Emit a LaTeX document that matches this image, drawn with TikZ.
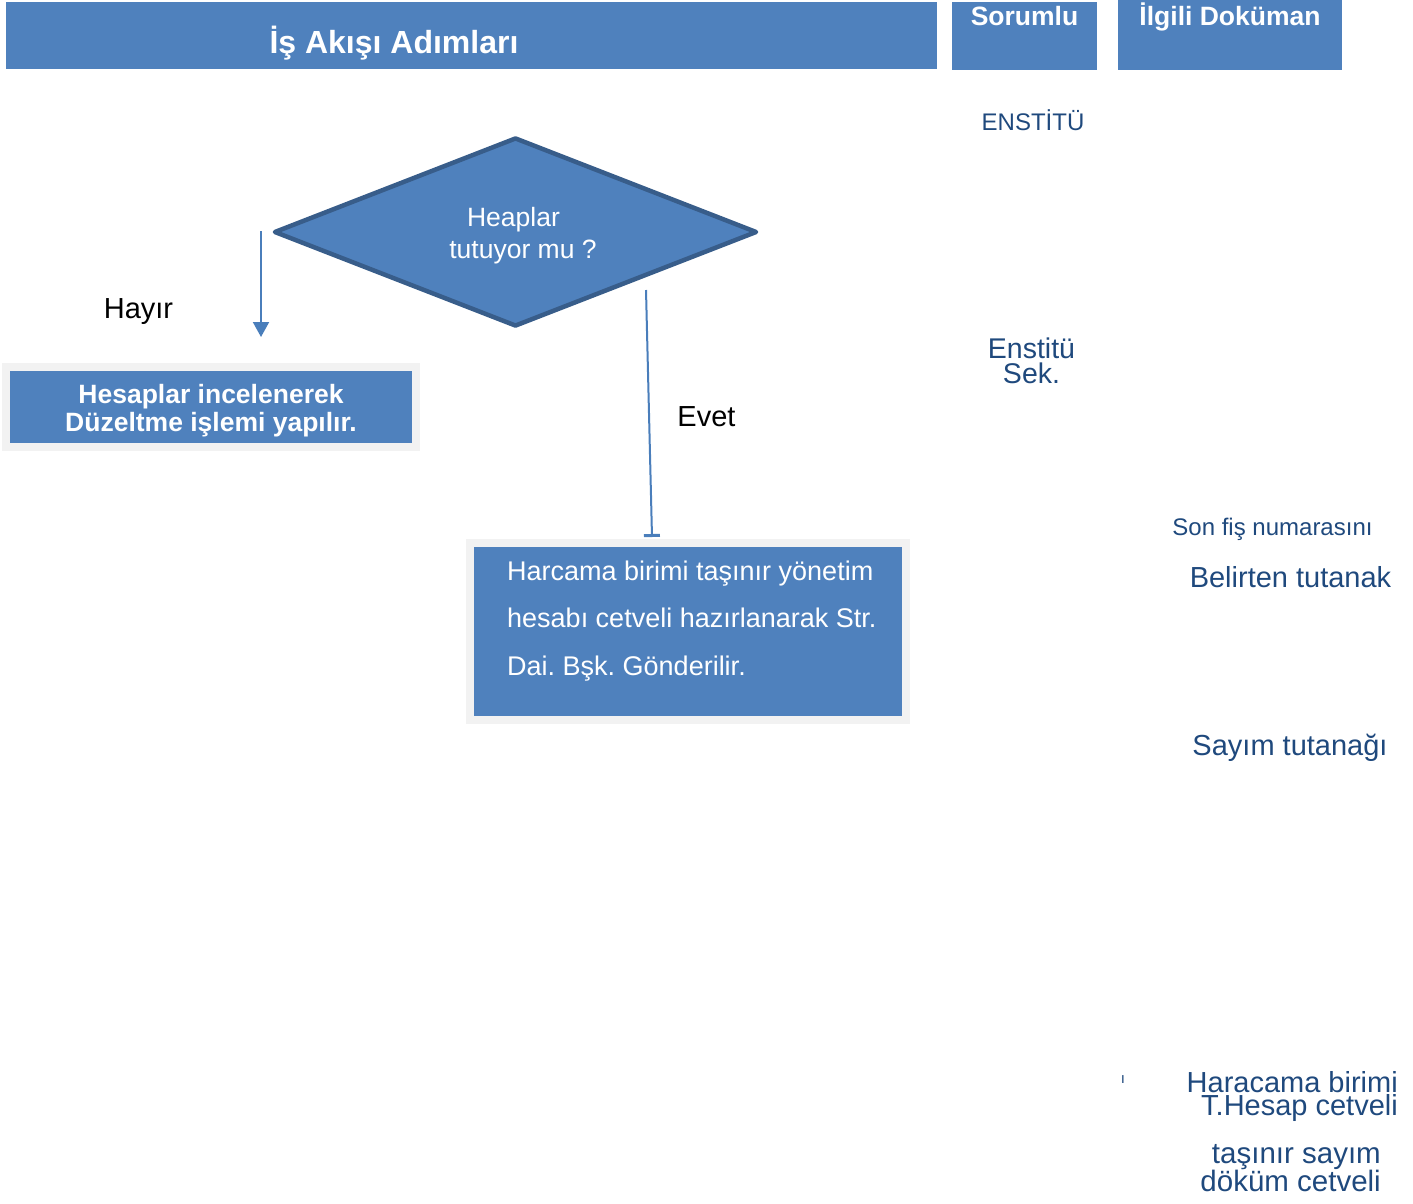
\documentclass[tikz,border=0pt]{standalone}
\usepackage{fontspec}
\setmainfont{Liberation Sans}
\frenchspacing
\usetikzlibrary{shapes.geometric, positioning, arrows.meta}
\definecolor{boxblue}{HTML}{4F81BD}
\definecolor{edgeblue}{HTML}{385D8A}
\definecolor{lineblue}{HTML}{4A7EBB}
\definecolor{docblue}{HTML}{1F497D}
\definecolor{framegray}{HTML}{F2F2F2}

\begin{document}
\begin{tikzpicture}[x=1pt, y=-1pt,
  bluebox/.style={fill=boxblue, inner sep=0pt, outer sep=0pt},
  framedbox/.style={bluebox, draw=framegray, line width=8pt},
  headtext/.style={text=white, inner sep=0pt, anchor=base, font=\bfseries\fontsize{26.5}{30}\selectfont},
  sidetext/.style={text=docblue, inner sep=0pt, anchor=base},
  flowline/.style={lineblue, line width=2pt}]
\useasboundingbox (0,0) rectangle (1413,1203);
\node[bluebox, minimum width=931pt, minimum height=67pt] (header) at (471.5,35.5) {};
\node[bluebox, minimum width=145pt, minimum height=68pt] (sorumlu) at (1024.5,36) {};
\node[bluebox, minimum width=224pt, minimum height=70pt] (ilgili) at (1230,35) {};
\node[headtext, font=\bfseries\fontsize{32}{38}\selectfont] (title) at (394,53.5) {İş Akışı Adımları};
\node[headtext] (sorumluText) at ([yshift=-23pt]sorumlu.north) {Sorumlu};
\node[headtext] (ilgiliText) at ([yshift=-25pt]ilgili.north) {İlgili Doküman};

\node[diamond, aspect=2.6, fill=boxblue, draw=edgeblue, line width=4.5pt, line join=round, minimum width=483pt, minimum height=189pt, inner sep=0pt, text=white, align=center, font=\fontsize{26.5}{31.6}\selectfont] (karar) at (515.5,232) {\rule{0pt}{27pt}Heaplar\hspace*{4pt}\\\hspace*{15pt}tutuyor mu ?};
\node[framedbox, minimum width=410pt, minimum height=80pt, text=white, align=center, font=\bfseries\fontsize{26.5}{28}\selectfont] (duzeltme) at (211,407) {\rule{0pt}{26pt}Hesaplar incelenerek\\Düzeltme işlemi yapılır.};
\node[framedbox, minimum width=435.5pt, minimum height=176.5pt] (harcama) at (687.75,631.25) {};
\node[text=white, align=left, anchor=north west, inner sep=0pt, font=\fontsize{27}{47.5}\selectfont] (harcamaText) at ([xshift=37pt, yshift=-17.3pt]harcama.north west) {Harcama birimi taşınır yönetim\\hesabı cetveli hazırlanarak Str.\\Dai. Bşk. Gönderilir.};

\coordinate (hayirStart) at (261,231);
\coordinate (hayirEnd) at (261,337);
\coordinate (evetStart) at (646,290);
\coordinate (evetEnd) at (652,537);
\draw[flowline, -{Triangle[width=16pt,length=15pt]}] (hayirStart) -- (hayirEnd);
\draw[flowline, -{Bar[width=16pt,line width=3pt]}] (evetStart) -- (evetEnd);
\node[inner sep=0pt, anchor=base, font=\fontsize{29}{34}\selectfont] (hayir) at (138.5,318) {Hayır};
\node[inner sep=0pt, anchor=base, font=\fontsize{29}{34}\selectfont] (evet) at (706.5,426.7) {Evet};

\node[sidetext, font=\fontsize{24}{28}\selectfont] (enstitu) at (1033,130) {ENSTİTÜ};
\node[sidetext, anchor=north, align=center, font=\fontsize{28.5}{24.4}\selectfont] (sekreter) at (1031.5,338) {Enstitü\\Sek.};
\node[sidetext, font=\fontsize{24}{28}\selectfont] (sonfis) at (1272.5,535) {Son fiş numarasını};
\node[sidetext, font=\fontsize{29}{34}\selectfont] (belirten) at (1290.5,587.3) {Belirten tutanak};
\node[sidetext, font=\fontsize{29}{34}\selectfont] (sayim) at (1290,755) {Sayım tutanağı};
\node[sidetext, font=\fontsize{15}{18}\selectfont] (isaret) at (1123,1083) {ı};
\node[sidetext, anchor=north east, align=right, font=\fontsize{29}{23.3}\selectfont] (hesapCetveli) at (1398,1071) {Haracama birimi\\T.Hesap cetveli};
\node[sidetext, anchor=north east, align=right, font=\fontsize{29.5}{24}\selectfont] (dokumCetveli) at (1381,1144) {taşınır sayım\\döküm cetveli};
\end{tikzpicture}
\end{document}
